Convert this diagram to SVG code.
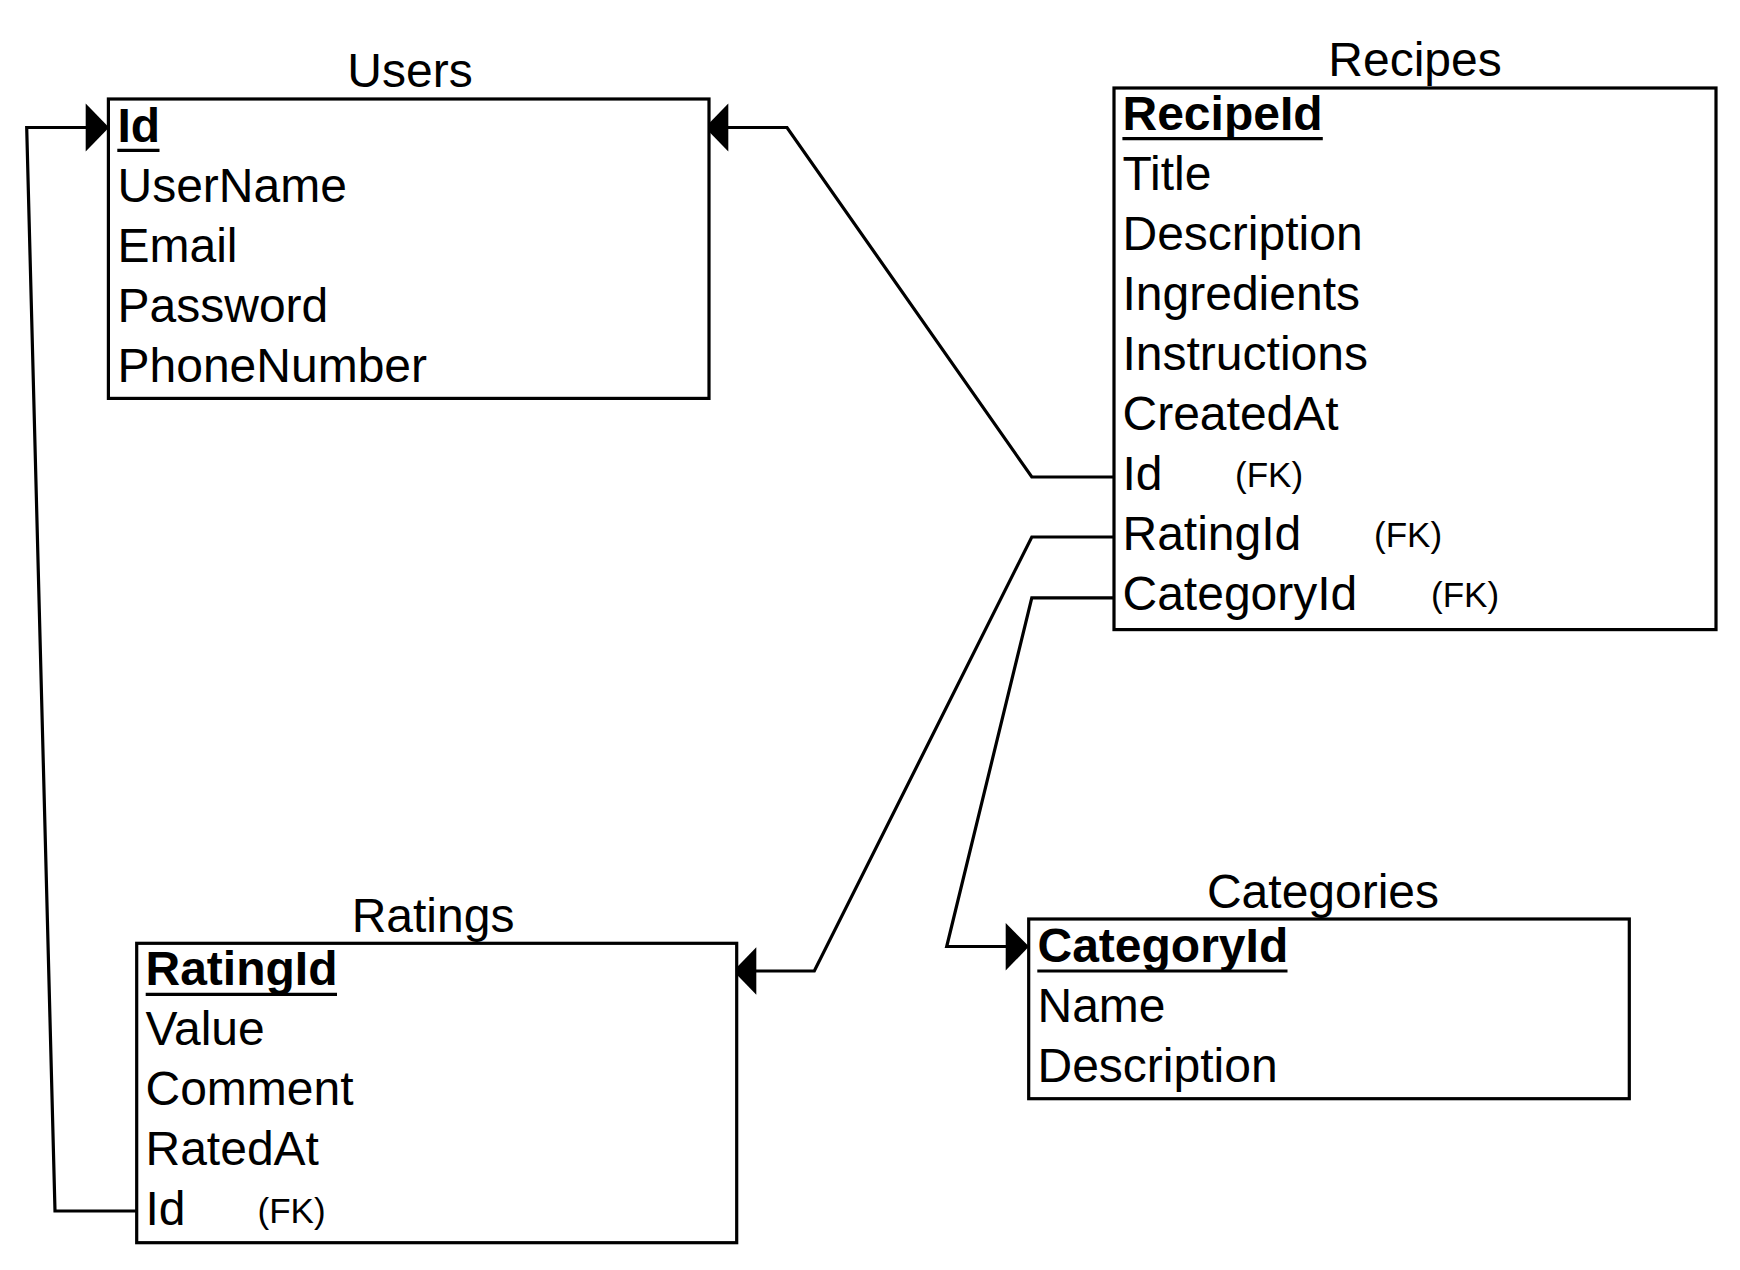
<svg xmlns="http://www.w3.org/2000/svg" width="1740" height="1270" viewBox="0 0 1740 1270">
<style>
.box{fill:#fff;stroke:#000;stroke-width:3.2}
.t{font-family:"Liberation Sans",Arial,Helvetica,sans-serif;font-size:48px;fill:#000}
.pk{font-weight:bold}
.fk{font-size:35px}
.title{text-anchor:middle}
.ul{stroke:#000;stroke-width:3.2}
.conn{fill:none;stroke:#000;stroke-width:3.2;stroke-linejoin:miter}
.arrow{fill:#000;stroke:none}
</style>
<rect x="0" y="0" width="1740" height="1270" fill="#fff"/>

<g id="connectors">
  <!-- Ratings.Id -> Users.Id -->
  <path class="conn" d="M137,1211 L55,1211 L26.7,127.5 L88,127.5"/>
  <polygon class="arrow" points="109,127.5 85.7,103.5 85.7,151.5"/>
  <!-- Recipes.Id -> Users.Id -->
  <path class="conn" d="M1114,477 L1031.8,477 L787,127.5 L726,127.5"/>
  <polygon class="arrow" points="705,127.5 728.3,103.5 728.3,151.5"/>
  <!-- Recipes.RatingId -> Ratings.RatingId -->
  <path class="conn" d="M1114,537 L1031.8,537 L814.3,971 L754,971"/>
  <polygon class="arrow" points="733.3,971 756.3,947.3 756.3,994.7"/>
  <!-- Recipes.CategoryId -> Categories.CategoryId -->
  <path class="conn" d="M1114,597.8 L1031.8,597.8 L946.7,946.5 L1008,946.5"/>
  <polygon class="arrow" points="1029,946.5 1005.7,923 1005.7,970.5"/>
</g>

<g id="users">
  <text class="t title" x="410" y="86.5">Users</text>
  <rect class="box" x="108.4" y="99" width="600.6" height="299.4"/>
  <text class="t pk" x="117.5" y="141.5">Id</text>
  <line class="ul" x1="117.3" y1="150.3" x2="159.5" y2="150.3"/>
  <text class="t" x="117.5" y="201.5">UserName</text>
  <text class="t" x="117.5" y="261.5">Email</text>
  <text class="t" x="117.5" y="321.5">Password</text>
  <text class="t" x="117.5" y="381.5">PhoneNumber</text>
</g>

<g id="recipes">
  <text class="t title" x="1415" y="76">Recipes</text>
  <rect class="box" x="1114" y="88" width="602" height="541.6"/>
  <text class="t pk" x="1122.5" y="129.5">RecipeId</text>
  <line class="ul" x1="1122.4" y1="138.6" x2="1322.8" y2="138.6"/>
  <text class="t" x="1122.5" y="189.5">Title</text>
  <text class="t" x="1122.5" y="249.5">Description</text>
  <text class="t" x="1122.5" y="309.5">Ingredients</text>
  <text class="t" x="1122.5" y="369.5">Instructions</text>
  <text class="t" x="1122.5" y="429.5">CreatedAt</text>
  <text class="t" x="1122.5" y="489.5">Id</text>
  <text class="t fk" x="1235" y="487">(FK)</text>
  <text class="t" x="1122.5" y="549.5">RatingId</text>
  <text class="t fk" x="1374" y="547">(FK)</text>
  <text class="t" x="1122.5" y="609.5">CategoryId</text>
  <text class="t fk" x="1431" y="607">(FK)</text>
</g>

<g id="ratings">
  <text class="t title" x="433" y="931.5">Ratings</text>
  <rect class="box" x="136.7" y="943.3" width="600" height="299.4"/>
  <text class="t pk" x="145.5" y="985">RatingId</text>
  <line class="ul" x1="145.7" y1="994.3" x2="337" y2="994.3"/>
  <text class="t" x="145.5" y="1045">Value</text>
  <text class="t" x="145.5" y="1105">Comment</text>
  <text class="t" x="145.5" y="1165">RatedAt</text>
  <text class="t" x="145.5" y="1225">Id</text>
  <text class="t fk" x="257.5" y="1222.5">(FK)</text>
</g>

<g id="categories">
  <text class="t title" x="1323" y="907.7">Categories</text>
  <rect class="box" x="1028.7" y="919" width="600.6" height="179.7"/>
  <text class="t pk" x="1037.5" y="961.5">CategoryId</text>
  <line class="ul" x1="1037.3" y1="971" x2="1287.5" y2="971"/>
  <text class="t" x="1037.5" y="1021.5">Name</text>
  <text class="t" x="1037.5" y="1081.5">Description</text>
</g>
</svg>
